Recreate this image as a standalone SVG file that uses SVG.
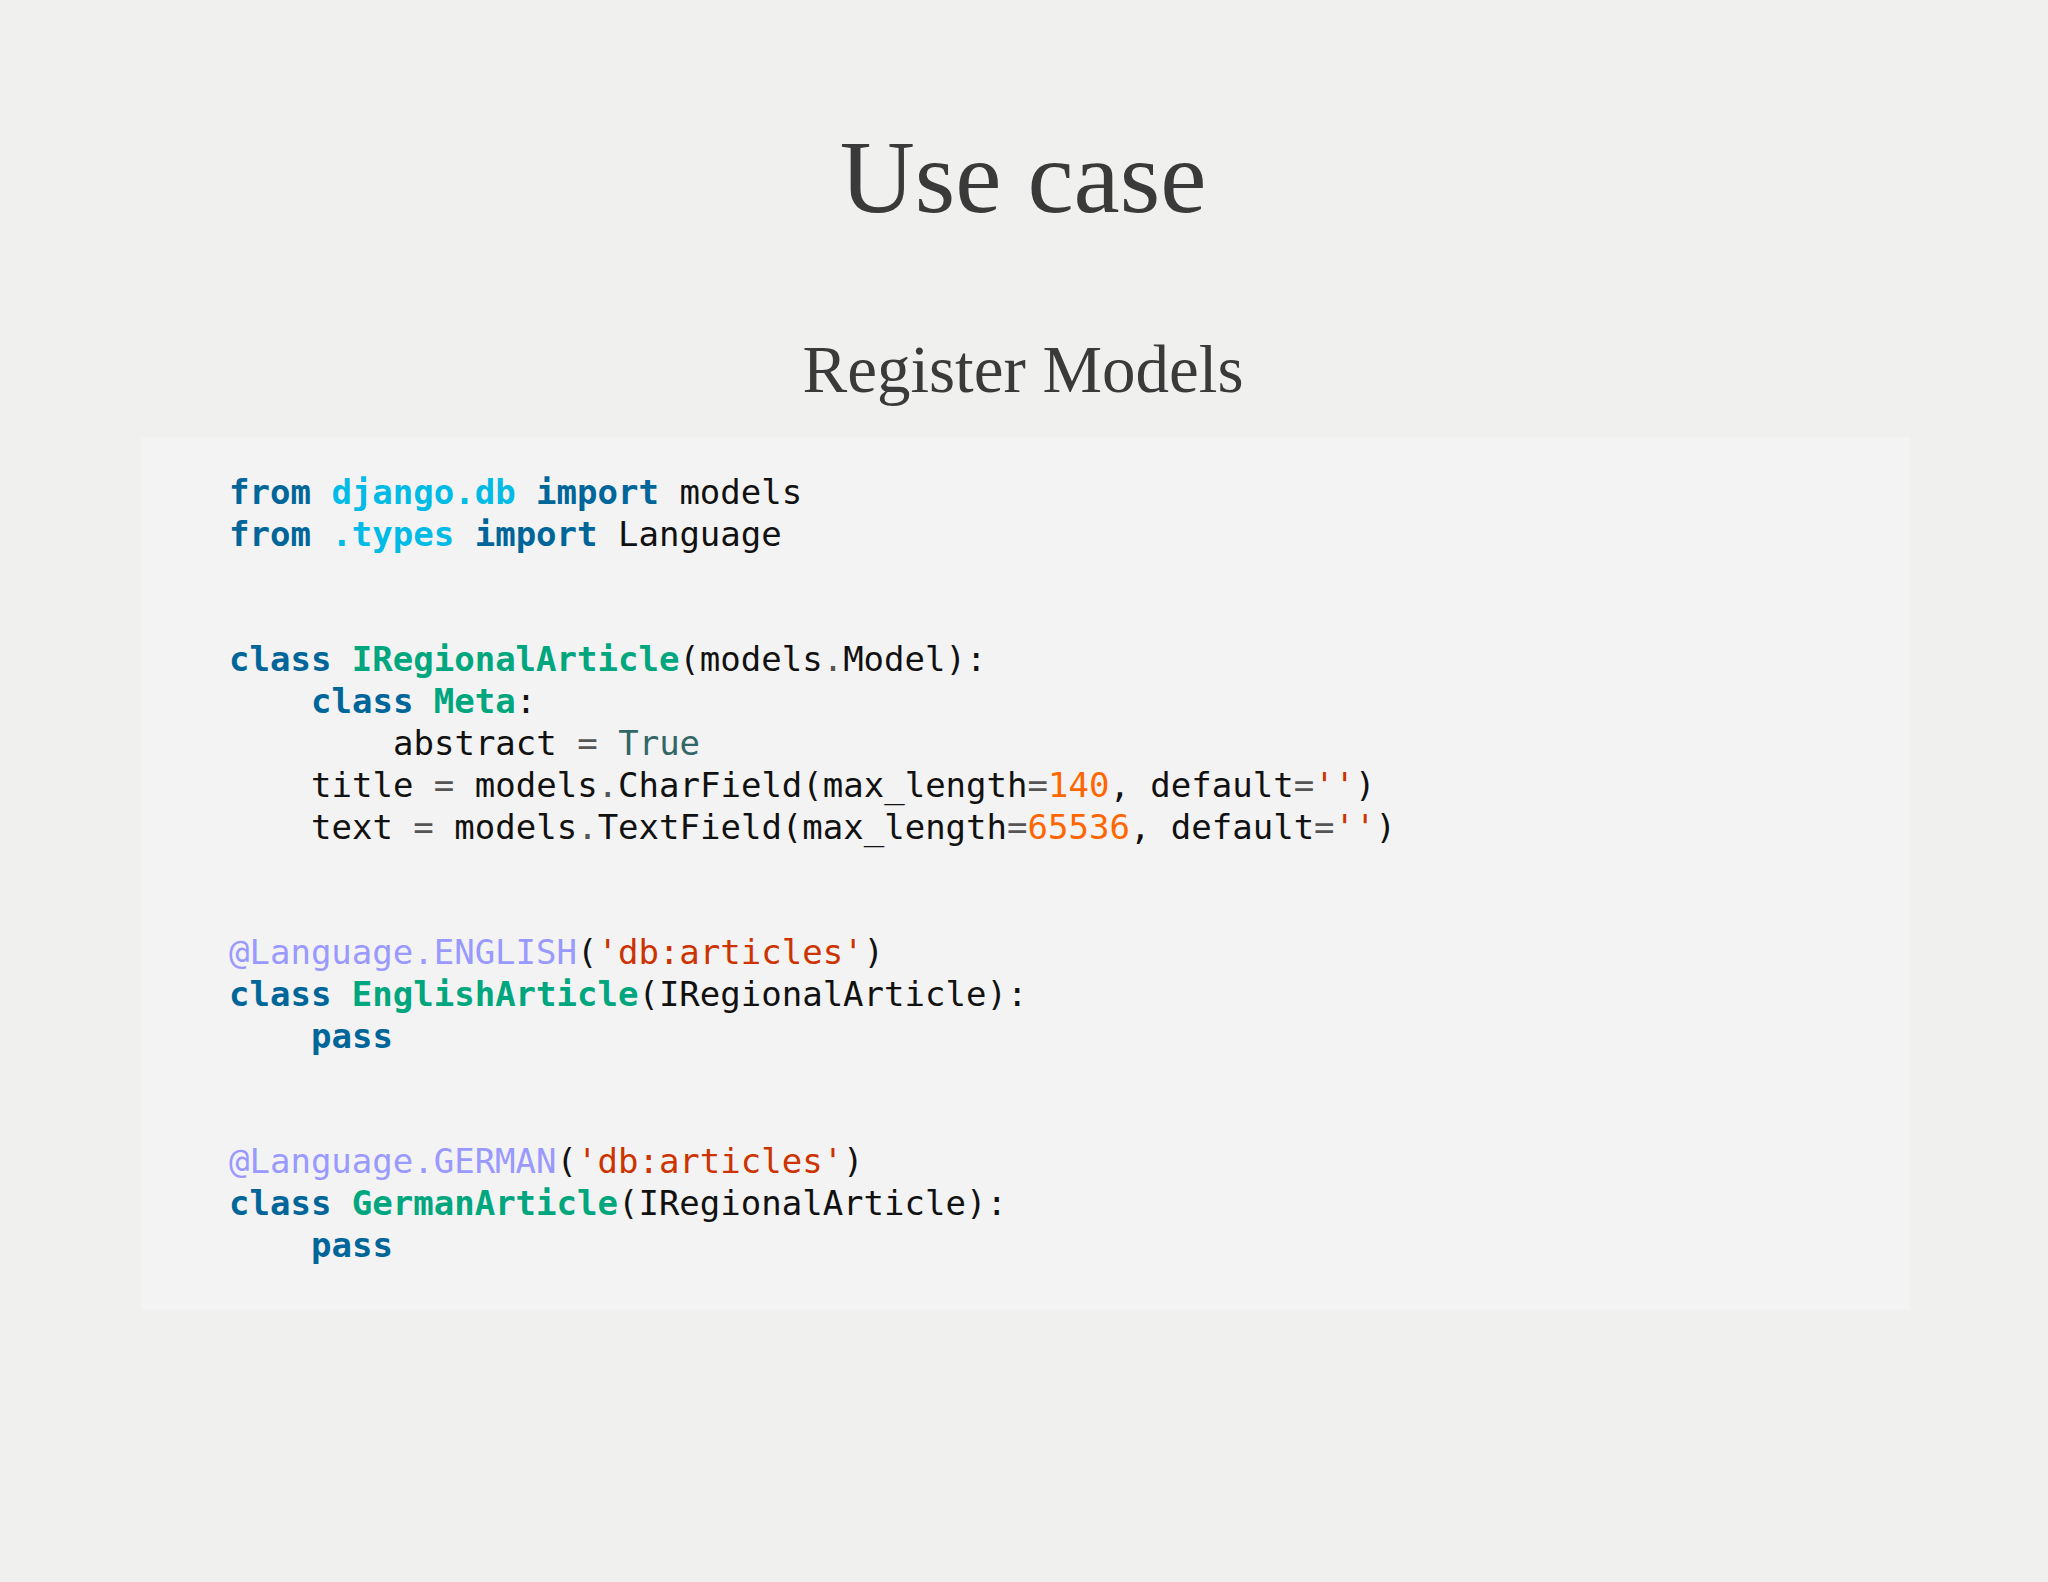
<svg xmlns="http://www.w3.org/2000/svg" width="2048" height="1582" viewBox="0 0 2048 1582">
<style>
.c{font-family:"DejaVu Sans Mono",monospace;font-size:34px;fill:#111;white-space:pre}
.k{fill:#006699;font-weight:bold}
.m{fill:#00bbe6;font-weight:bold}
.n{fill:#00a67d;font-weight:bold}
.o{fill:#555}
.t{fill:#336666}
.num{fill:#ff6600}
.s{fill:#cc3300}
.d{fill:#9999ff}
.h{font-family:"Liberation Serif",serif;fill:#3a3a3a;text-anchor:middle}
</style>
<rect width="2048" height="1582" fill="#f0f1ef"/>
<text class="h" x="1023" y="212" font-size="104">Use case</text>
<text class="h" x="1023" y="392" font-size="67">Register Models</text>
<rect x="141" y="437" width="1769" height="873" fill="#f3f3f3"/>
<g id="code">
<text class="c" x="229" y="504"><tspan class="k">from</tspan> <tspan class="m">django.db</tspan> <tspan class="k">import</tspan> models</text>
<text class="c" x="229" y="546"><tspan class="k">from</tspan> <tspan class="m">.types</tspan> <tspan class="k">import</tspan> Language</text>
<text class="c" x="229" y="671"><tspan class="k">class</tspan> <tspan class="n">IRegionalArticle</tspan>(models<tspan class="o">.</tspan>Model):</text>
<text class="c" x="311" y="713"><tspan class="k">class</tspan> <tspan class="n">Meta</tspan>:</text>
<text class="c" x="393" y="755">abstract <tspan class="o">=</tspan> <tspan class="t">True</tspan></text>
<text class="c" x="311" y="797">title <tspan class="o">=</tspan> models<tspan class="o">.</tspan>CharField(max_length<tspan class="o">=</tspan><tspan class="num">140</tspan>, default<tspan class="o">=</tspan><tspan class="s">''</tspan>)</text>
<text class="c" x="311" y="839">text <tspan class="o">=</tspan> models<tspan class="o">.</tspan>TextField(max_length<tspan class="o">=</tspan><tspan class="num">65536</tspan>, default<tspan class="o">=</tspan><tspan class="s">''</tspan>)</text>
<text class="c" x="229" y="964"><tspan class="d">@Language.ENGLISH</tspan>(<tspan class="s">'db:articles'</tspan>)</text>
<text class="c" x="229" y="1006"><tspan class="k">class</tspan> <tspan class="n">EnglishArticle</tspan>(IRegionalArticle):</text>
<text class="c" x="311" y="1048"><tspan class="k">pass</tspan></text>
<text class="c" x="229" y="1173"><tspan class="d">@Language.GERMAN</tspan>(<tspan class="s">'db:articles'</tspan>)</text>
<text class="c" x="229" y="1215"><tspan class="k">class</tspan> <tspan class="n">GermanArticle</tspan>(IRegionalArticle):</text>
<text class="c" x="311" y="1257"><tspan class="k">pass</tspan></text>
</g>
</svg>
